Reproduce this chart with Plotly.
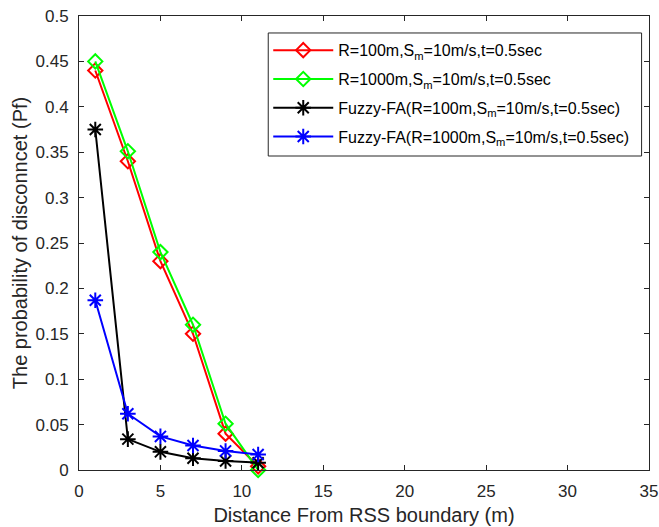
import plotly.graph_objects as go

# Distance from the RSS boundary (m)
distance = [1, 3, 5, 7, 9, 11]

# Probability of disconnection for each scheme
pf_r100 = [0.44, 0.34, 0.23, 0.15, 0.04, 0.004]
pf_r1000 = [0.45, 0.351, 0.24, 0.16, 0.051, 0.0]
pf_fuzzy_r100 = [0.375, 0.034, 0.02, 0.013, 0.01, 0.008]
pf_fuzzy_r1000 = [0.187, 0.062, 0.037, 0.027, 0.021, 0.017]

series_names = [
    "R=100m,S<sub>m</sub>=10m/s,t=0.5sec",
    "R=1000m,S<sub>m</sub>=10m/s,t=0.5sec",
    "Fuzzy-FA(R=100m,S<sub>m</sub>=10m/s,t=0.5sec)",
    "Fuzzy-FA(R=1000m,S<sub>m</sub>=10m/s,t=0.5sec)",
]
series_values = [pf_r100, pf_r1000, pf_fuzzy_r100, pf_fuzzy_r1000]
series_colors = ["#ff0000", "#00ff00", "#000000", "#0000ff"]
series_symbols = ["diamond-open", "diamond-open", "asterisk-open", "asterisk-open"]
series_sizes = [11, 11, 13, 13]

x_ticks = [0, 5, 10, 15, 20, 25, 30, 35]
y_ticks = [0, 0.05, 0.1, 0.15, 0.2, 0.25, 0.3, 0.35, 0.4, 0.45, 0.5]
y_tick_labels = ["0", "0.05", "0.1", "0.15", "0.2", "0.25", "0.3", "0.35", "0.4", "0.45", "0.5"]

fig = go.Figure()
for i, (name, vals, color, sym, size) in enumerate(
        zip(series_names, series_values, series_colors, series_symbols, series_sizes)):
    fig.add_trace(go.Scatter(
        x=distance, y=vals, name=name, mode="lines+markers",
        legendgroup=f"g{i}",
        line=dict(color=color, width=2),
        marker=dict(symbol=sym, size=size, color=color, line=dict(color=color, width=2)),
        cliponaxis=False,
    ))

axis_color = "#262626"
font_family = "Liberation Sans, Arial"
common_axis = dict(
    showline=True, linecolor=axis_color, linewidth=1, mirror="allticks",
    ticks="inside", ticklen=5, tickcolor=axis_color, showgrid=False, zeroline=False,
    tickfont=dict(family=font_family, size=17, color=axis_color),
    ticklabeloverflow="allow", automargin=False,
)

# Legend frame drawn as a shape so its size can be set independently of the entries
fig.add_shape(type="rect", xref="x domain", yref="y domain",
              x0=0.332, x1=0.987, y0=0.6916, y1=0.9626,
              line=dict(color=axis_color, width=1), fillcolor="white", layer="below")

fig.update_layout(
    width=659, height=527,
    margin=dict(l=79, r=10, t=16, b=57),
    paper_bgcolor="white", plot_bgcolor="white",
    font=dict(family=font_family, color=axis_color),
    xaxis=dict(range=[0, 35], tickvals=x_ticks, ticklabelstandoff=6,
               title=dict(text="Distance From RSS boundary (m)", font=dict(size=20), standoff=7),
               **common_axis),
    yaxis=dict(range=[0, 0.5], tickvals=y_ticks, ticktext=y_tick_labels, ticklabelstandoff=6,
               title=dict(text="The probability of disconncet (Pf)", font=dict(size=20), standoff=2),
               **common_axis),
    legend=dict(x=0.332, y=0.962, xanchor="left", yanchor="top",
                bgcolor="rgba(0,0,0,0)", borderwidth=0,
                font=dict(family=font_family, size=16, color="#000000"),
                itemwidth=60, tracegroupgap=5),
)

fig.write_html("out.html")
